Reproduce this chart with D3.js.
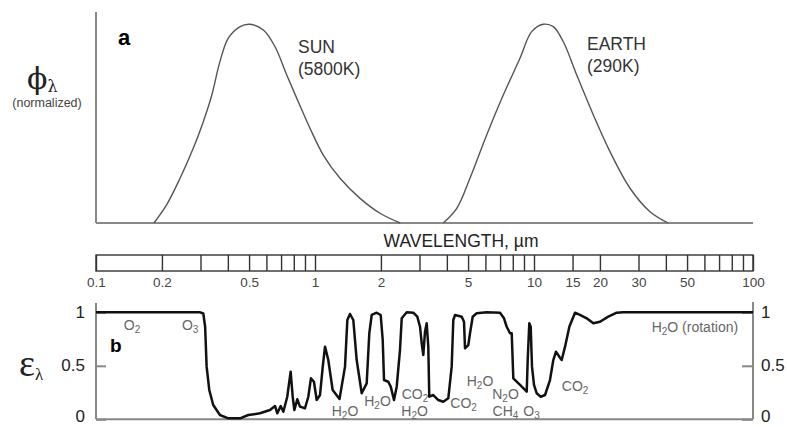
<!DOCTYPE html>
<meta charset="utf-8">
<style>
body { margin: 0; background: #fff; }
svg { display: block; font-family: 'Liberation Sans', Arial, sans-serif; }
.planck { fill: none; stroke: #555; stroke-width: 1.4; }
.eps { fill: none; stroke: #111; stroke-width: 2.5; stroke-linejoin: round; }
.frame { stroke: #888; stroke-width: 2; }
.bar rect { fill: none; stroke: #333; stroke-width: 1.4; }
.bar .tick line { stroke: #333; stroke-width: 1.4; }
.bar .domain { display: none; }
.barlab text { font-size: 13.5px; fill: #444; }
.barlab .domain { display: none; }
.yax text { font-size: 17px; fill: #222; }
.yax .tick line { stroke: #888; stroke-width: 2; }
.yax .domain { display: none; }
.gas { font-size: 14px; fill: #666; }
.big { font-size: 17.5px; fill: #333; }
</style>
<body>
<script src="https://d3js.org/d3.v7.min.js"></script>
<script>

// panel a: normalized blackbody curves
var sunLam = [0.184, 0.210, 0.242, 0.278, 0.309, 0.338, 0.368, 0.402, 0.455, 0.505,
              0.581, 0.657, 0.743, 0.839, 0.949, 1.091, 1.301, 1.606, 1.981, 2.45];
var sunPhi = [0, 0.091, 0.225, 0.376, 0.510, 0.644, 0.812, 0.930, 0.988, 1.0,
              0.971, 0.887, 0.745, 0.610, 0.477, 0.342, 0.225, 0.124, 0.049, 0];

var earthLam = [3.85, 4.44, 5.10, 6.08, 7.24, 8.63, 9.76, 11.03, 12.25, 13.61,
                15.67, 18.66, 22.23, 27.44, 33.86, 41.0];
var earthPhi = [0, 0.074, 0.225, 0.443, 0.644, 0.829, 0.963, 1.0, 0.988, 0.912,
                0.745, 0.544, 0.359, 0.175, 0.057, 0];

// panel b: atmospheric absorptivity
var epsLam = [0.1, 0.299, 0.309, 0.315, 0.320, 0.329, 0.343, 0.368, 0.402, 0.455,
              0.496, 0.561, 0.623, 0.657, 0.673, 0.697, 0.717, 0.747, 0.774, 0.791,
              0.805, 0.830, 0.854, 0.900, 0.932, 0.958, 0.989, 1.018, 1.054, 1.085,
              1.111, 1.150, 1.204, 1.294, 1.371, 1.405, 1.445, 1.496, 1.550, 1.634,
              1.722, 1.770, 1.815, 1.913, 1.995, 2.038, 2.066, 2.161, 2.217, 2.295,
              2.361, 2.444, 2.489, 2.623, 2.811, 2.932, 3.017, 3.071, 3.123, 3.179,
              3.236, 3.291, 3.325, 3.469, 3.656, 3.853, 4.061, 4.209, 4.281, 4.359,
              4.677, 4.791, 4.841, 5.012, 5.103, 5.249, 5.475, 6.081, 6.994, 7.295,
              7.505, 7.770, 7.911, 8.045, 8.633, 9.263, 9.359, 9.518, 9.659, 9.793,
              10.0, 10.29, 10.73, 11.23, 11.83, 12.25, 12.60, 13.05, 13.38, 13.86,
              14.50, 15.39, 16.22, 17.40, 18.66, 20.01, 21.84, 23.86, 25.57, 100];
var epsVal = [1.0, 1.0, 0.989, 0.865, 0.492, 0.274, 0.134, 0.040, 0.009, 0.009,
              0.040, 0.056, 0.087, 0.124, 0.056, 0.124, 0.071, 0.211, 0.445, 0.211,
              0.087, 0.187, 0.118, 0.103, 0.211, 0.383, 0.351, 0.180, 0.227, 0.492,
              0.679, 0.554, 0.274, 0.190, 0.492, 0.928, 0.984, 0.928, 0.554, 0.243,
              0.336, 0.804, 0.975, 0.996, 0.975, 0.741, 0.367, 0.351, 0.305, 0.180,
              0.305, 0.648, 0.944, 1.0, 0.996, 0.959, 0.865, 0.710, 0.601, 0.819,
              0.897, 0.679, 0.211, 0.227, 0.180, 0.164, 0.196, 0.492, 0.928, 0.975,
              0.959, 0.912, 0.664, 0.694, 0.804, 0.959, 0.991, 1.0, 0.996, 0.944,
              0.865, 0.804, 0.804, 0.383, 0.321, 0.258, 0.554, 0.897, 0.865, 0.492,
              0.321, 0.243, 0.211, 0.227, 0.367, 0.554, 0.632, 0.585, 0.554, 0.679,
              0.865, 0.996, 0.975, 0.944, 0.897, 0.912, 0.959, 0.996, 1.0, 1.0];

// wavelength bar
var barTicks = [0.1, 0.2, 0.3, 0.4, 0.5, 0.6, 0.7, 0.8, 0.9, 1, 2, 3, 4, 5, 6, 7, 8, 9, 10,
                15, 20, 30, 40, 50, 60, 70, 80, 90, 100];
var barLabels = [0.1, 0.2, 0.5, 1, 2, 5, 10, 15, 20, 30, 50, 100];

// absorber labels in panel b
var gasNames = ["O2", "O3", "H2O", "H2O", "CO2", "H2O", "CO2", "H2O", "N2O", "CH4", "O3", "CO2", "H2O (rotation)"];
var gasLam   = [0.146, 0.269, 1.371, 1.93, 2.86, 2.85, 4.77, 5.67, 7.41, 7.41, 9.74, 15.4, 54.3];
var gasEps   = [0.835, 0.835, 0.031, 0.124, 0.190, 0.031, 0.110, 0.311, 0.190, 0.031, 0.031, 0.265, 0.82];

var width = 787, height = 427;

var x = d3.scaleLog().domain([0.1, 100]).range([96, 753]);
var yTop = d3.scaleLinear().domain([0, 1]).range([223, 24.3]);
var yBot = d3.scaleLinear().domain([0, 1]).range([419.3, 312.3]);

var svg = d3.select("body").append("svg")
    .attr("width", width)
    .attr("height", height);

svg.append("rect").attr("width", width).attr("height", height).attr("fill", "#fff");

function chem(sel, s) {
  var parts = s.match(/\d+|\D+/g), shift = 0;
  parts.forEach(function(p) {
    var t = sel.append("tspan").text(p);
    if (/^\d+$/.test(p)) { t.attr("dy", 3).style("font-size", "10px"); shift = 3; }
    else if (shift) { t.attr("dy", -shift); shift = 0; }
  });
}

// ---- panel a
svg.append("line").attr("class", "frame")
    .attr("x1", x(0.1)).attr("x2", x(0.1)).attr("y1", 12).attr("y2", yTop(0));
svg.append("line").attr("class", "frame")
    .attr("x1", x(0.1)).attr("x2", x(100)).attr("y1", yTop(0)).attr("y2", yTop(0));

var lineTop = d3.line()
    .x(function(d) { return x(d[0]); })
    .y(function(d) { return yTop(d[1]); })
    .curve(d3.curveCatmullRom);

svg.append("path").attr("class", "planck")
    .datum(d3.zip(sunLam, sunPhi)).attr("d", lineTop);
svg.append("path").attr("class", "planck")
    .datum(d3.zip(earthLam, earthPhi)).attr("d", lineTop);

svg.append("text").attr("x", 118).attr("y", 45)
    .style("font-size", "22px").style("font-weight", "bold").text("a");

svg.append("text").attr("class", "big").attr("x", x(0.836)).attr("y", yTop(0.856)).text("SUN");
svg.append("text").attr("class", "big").attr("x", x(0.836)).attr("y", yTop(0.745)).text("(5800K)");
svg.append("text").attr("class", "big").attr("x", x(17.46)).attr("y", yTop(0.871)).text("EARTH");
svg.append("text").attr("class", "big").attr("x", x(17.46)).attr("y", yTop(0.760)).text("(290K)");

var phi = svg.append("text").attr("x", 27).attr("y", 89)
    .style("font-family", "'DejaVu Serif', serif")
    .style("font-size", "30px").attr("fill", "#222");
phi.append("tspan").text("\u03d5");
phi.append("tspan").attr("dy", 3).style("font-size", "16px").text("\u03bb");

svg.append("text").attr("x", 47).attr("y", 107).attr("text-anchor", "middle")
    .style("font-size", "12.5px").attr("fill", "#444").text("(normalized)");

// ---- wavelength bar
svg.append("text").attr("x", 461).attr("y", 247).attr("text-anchor", "middle")
    .style("font-size", "17.5px").attr("fill", "#222").text("WAVELENGTH, \u00b5m");

var bar = svg.append("g").attr("class", "bar").attr("transform", "translate(0,255)");
bar.append("rect").attr("x", x(0.1)).attr("y", 0)
    .attr("width", x(100) - x(0.1)).attr("height", 16);
bar.call(d3.axisBottom(x).tickValues(barTicks).tickSize(16).tickSizeOuter(0).tickFormat(""));

svg.append("g").attr("class", "barlab").attr("transform", "translate(0,271)")
    .call(d3.axisBottom(x).tickValues(barLabels).tickSize(0).tickPadding(6)
      .tickFormat(function(d) { return String(d); }))
    .selectAll("text").attr("font-family", null);

// ---- panel b
svg.append("line").attr("class", "frame")
    .attr("x1", x(0.1)).attr("x2", x(0.1)).attr("y1", 303).attr("y2", yBot(0));
svg.append("line").attr("class", "frame")
    .attr("x1", x(100)).attr("x2", x(100)).attr("y1", 302).attr("y2", yBot(0));
svg.append("line").attr("class", "frame")
    .attr("x1", x(0.1)).attr("x2", x(100)).attr("y1", yBot(0)).attr("y2", yBot(0));

function tickDy(d) { return d === 0 ? "0.12em" : "0.3em"; }

svg.append("g").attr("class", "yax").attr("transform", "translate(" + x(0.1) + ",0)")
    .call(d3.axisLeft(yBot).tickValues([0, 0.5, 1]).tickSize(-10).tickPadding(11)
      .tickFormat(function(d) { return d; }))
    .selectAll("text").attr("font-family", null).attr("dy", tickDy);
svg.append("g").attr("class", "yax").attr("transform", "translate(" + x(100) + ",0)")
    .call(d3.axisRight(yBot).tickValues([0, 0.5, 1]).tickSize(-11).tickPadding(8)
      .tickFormat(function(d) { return d; }))
    .selectAll("text").attr("font-family", null).attr("dy", tickDy);

var lineBot = d3.line()
    .x(function(d) { return x(d[0]); })
    .y(function(d) { return yBot(d[1]); });

svg.append("path").attr("class", "eps")
    .datum(d3.zip(epsLam, epsVal)).attr("d", lineBot);

svg.append("text").attr("x", 110).attr("y", 352)
    .style("font-size", "19px").style("font-weight", "bold").text("b");

var epsLab = svg.append("text").attr("x", 19).attr("y", 376)
    .style("font-family", "'Liberation Serif', 'DejaVu Serif', serif")
    .style("font-size", "38px").attr("fill", "#222");
epsLab.append("tspan").text("\u03b5");
epsLab.append("tspan").attr("dy", 4).style("font-size", "17px").text("\u03bb");

svg.append("g").selectAll("text")
    .data(d3.range(gasNames.length))
  .enter().append("text")
    .attr("class", "gas")
    .attr("text-anchor", "middle")
    .attr("x", function(i) { return x(gasLam[i]); })
    .attr("y", function(i) { return yBot(gasEps[i]); })
    .each(function(i) { chem(d3.select(this), gasNames[i]); });

</script>
